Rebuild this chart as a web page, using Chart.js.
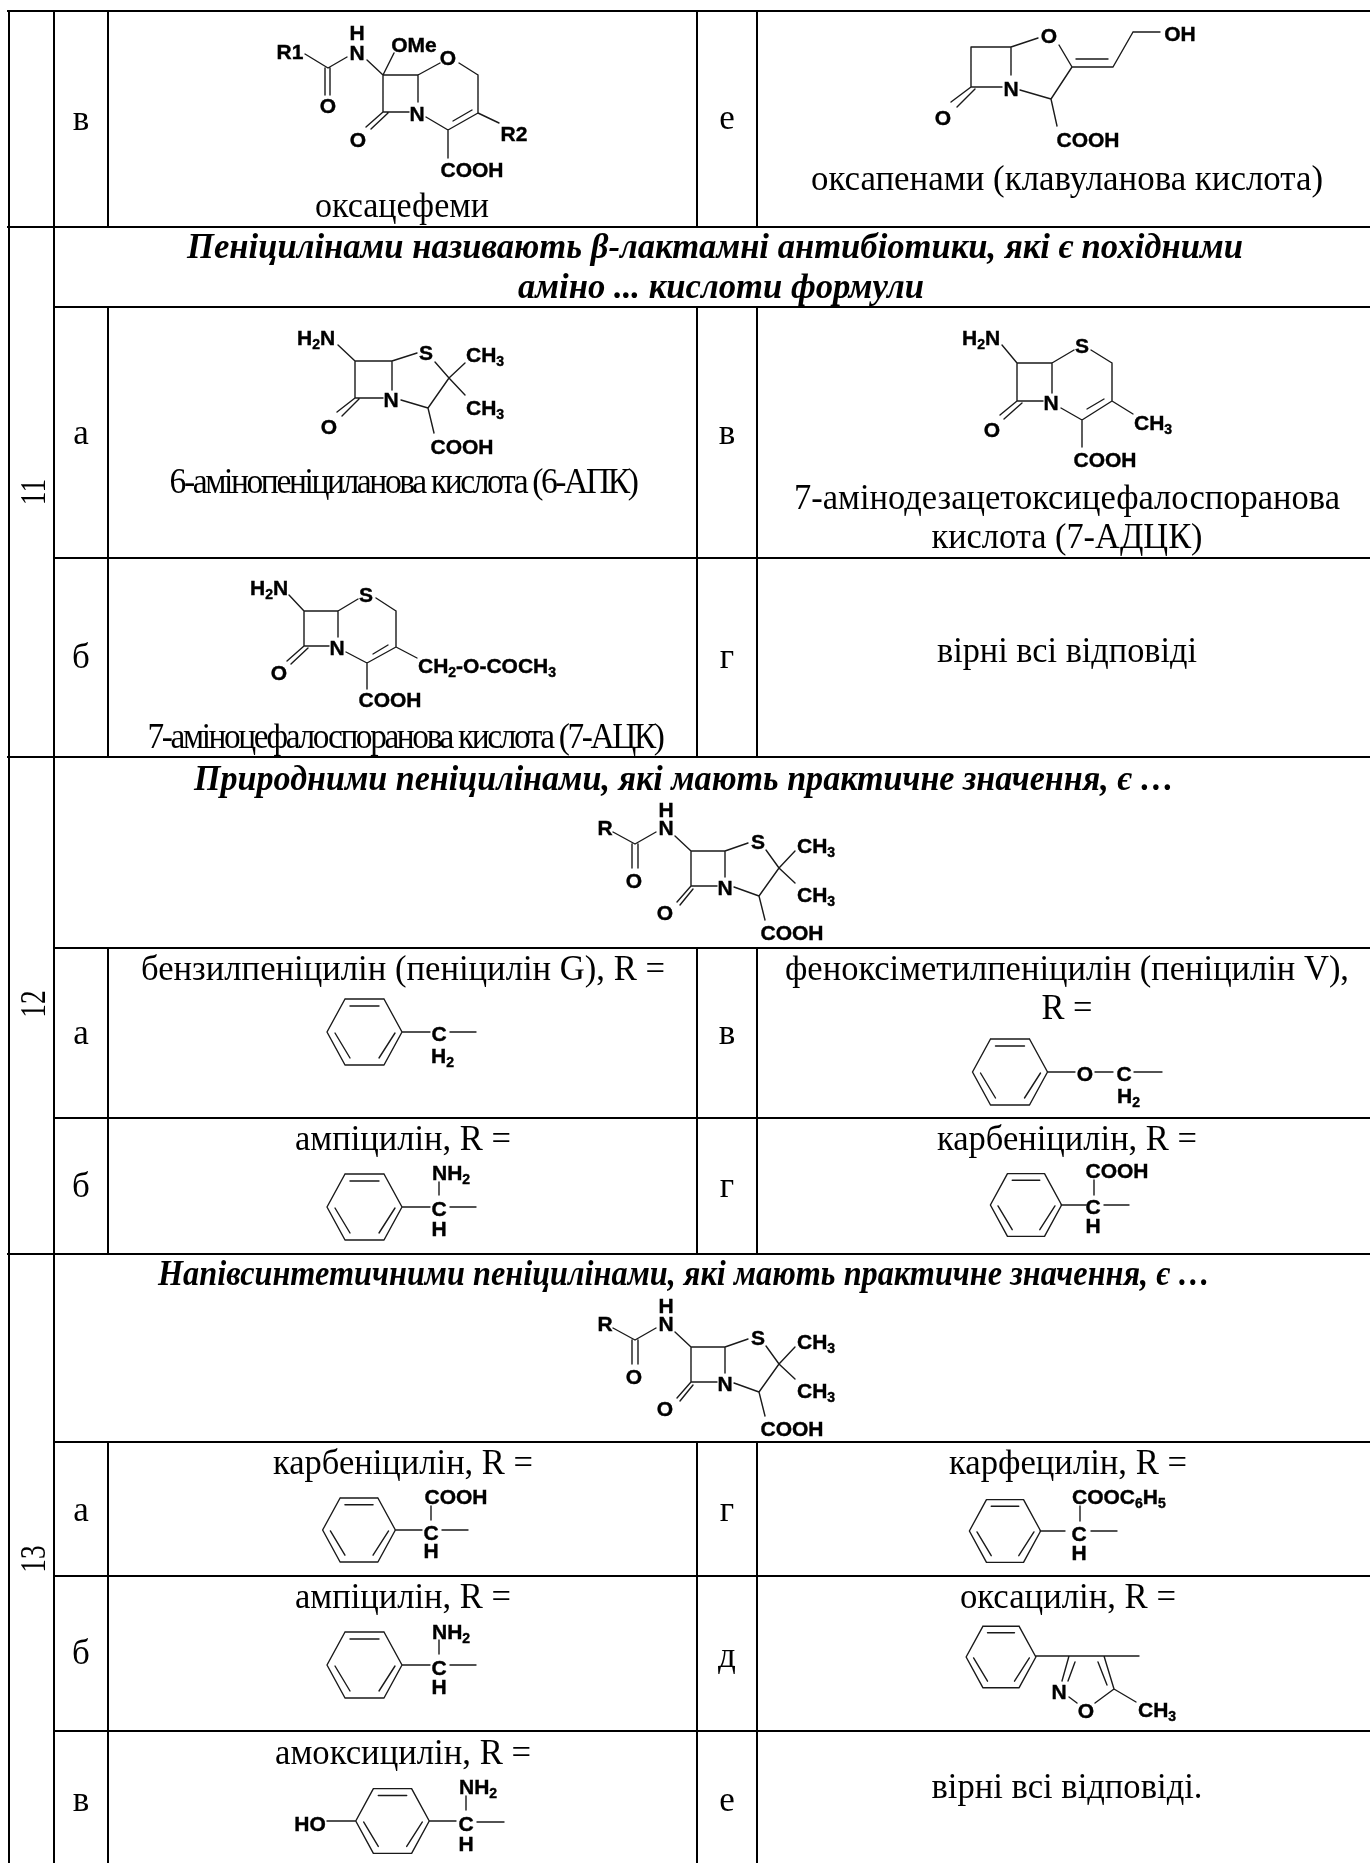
<!DOCTYPE html>
<html>
<head>
<meta charset="utf-8">
<style>
    html, body { margin: 0; padding: 0; background: #fff; }
    canvas { display: block; }
</style>
<script src="https://cdn.jsdelivr.net/npm/chart.js@4"></script>
</head>
<body>
<canvas id="chartTable" width="1370" height="1863"></canvas>
<script>
// table rules, each one x1, y1, x2, y2
var tableRules = [
    [9, 11, 9, 1863], [54, 11, 54, 1863],
    [108, 11, 108, 227], [108, 307, 108, 757], [108, 948, 108, 1254], [108, 1442, 108, 1863],
    [697, 11, 697, 227], [697, 307, 697, 757], [697, 948, 697, 1254], [697, 1442, 697, 1863],
    [757, 11, 757, 227], [757, 307, 757, 757], [757, 948, 757, 1254], [757, 1442, 757, 1863],
    [8, 11, 1370, 11], [8, 227, 1370, 227], [54, 307, 1370, 307], [54, 558, 1370, 558],
    [8, 757, 1370, 757], [54, 948, 1370, 948], [54, 1118, 1370, 1118], [8, 1254, 1370, 1254],
    [54, 1442, 1370, 1442], [54, 1576, 1370, 1576], [54, 1731, 1370, 1731]
];

var oxacephemBonds = [
    [305, 54, 328, 68], [328, 68, 347, 57], [325, 68, 325, 95], [330, 68, 330, 95],
    [367, 60, 383, 75], [383, 75, 394, 53], [383, 75, 418, 75], [418, 75, 440, 63],
    [459, 63, 478, 75], [478, 75, 478, 113], [478, 113, 448, 130], [472, 110, 453, 121],
    [448, 130, 426, 117], [418, 75, 418, 102], [383, 75, 383, 112], [383, 112, 409, 112],
    [383, 112, 366, 127], [388, 113, 371, 129], [448, 130, 448, 158], [478, 113, 499, 123]
];
var clavulanicBonds = [
    [971, 47, 1011, 47], [971, 47, 971, 87], [1011, 47, 1038, 38], [1059, 45, 1072, 67],
    [1072, 67, 1113, 67], [1076, 59, 1108, 59], [1113, 67, 1133, 32], [1133, 32, 1160, 32],
    [1072, 67, 1051, 99], [1020, 90, 1051, 99], [1051, 99, 1057, 126], [1011, 47, 1011, 75],
    [971, 87, 1002, 87], [971, 87, 951, 102], [975, 89, 957, 107]
];
var apaBonds = [
    [338, 345, 355, 361], [355, 361, 392, 361], [355, 361, 355, 398], [392, 361, 417, 353],
    [435, 362, 449, 378], [449, 378, 465, 363], [449, 378, 465, 395], [449, 378, 428, 408],
    [428, 408, 401, 400], [428, 408, 434, 433], [392, 361, 392, 390], [355, 398, 383, 398],
    [355, 398, 337, 412], [359, 399, 342, 416]
];
var acaBonds = [
    [289, 595, 304, 611], [304, 611, 338, 611], [304, 611, 304, 646], [338, 611, 358, 599],
    [376, 598, 396, 611], [396, 611, 396, 647], [396, 647, 367, 663], [388, 645, 373, 654],
    [367, 663, 346, 652], [338, 611, 338, 637], [304, 646, 329, 646], [304, 646, 287, 661],
    [308, 648, 291, 664], [367, 663, 367, 689], [396, 647, 417, 658]
];
var adcaBonds = [
    [1002, 345, 1017, 363], [1017, 363, 1052, 363], [1017, 363, 1017, 401], [1052, 363, 1074, 350],
    [1091, 350, 1112, 363], [1112, 363, 1112, 401], [1112, 401, 1082, 420], [1104, 399, 1087, 409],
    [1082, 420, 1061, 408], [1052, 363, 1052, 393], [1017, 401, 1043, 401], [1017, 401, 1000, 415],
    [1022, 403, 1004, 419], [1082, 420, 1082, 447], [1112, 401, 1133, 414]
];
// penam with R side chain, as in row 12; row 13 repeats it lower down
var penamBonds = [
    [613, 832, 635, 844], [635, 844, 656, 832], [632, 844, 632, 868], [638, 844, 638, 868],
    [675, 836, 691, 851], [691, 851, 725, 851], [691, 851, 691, 886], [725, 851, 748, 843],
    [766, 850, 779, 868], [779, 868, 795, 851], [779, 868, 795, 883], [779, 868, 759, 896],
    [759, 896, 734, 887], [759, 896, 765, 920], [725, 851, 725, 877], [691, 886, 717, 886],
    [691, 886, 677, 902], [693, 889, 680, 905]
];
var penamRowOffsets = [0, 496];

// benzene ring around its centre, then ring centres and sizes
var ringBonds = [
    [-19.5, -33, 19.5, -33], [19.5, -33, 37.5, 0], [37.5, 0, 19.5, 33], [19.5, 33, -19.5, 33],
    [-19.5, 33, -37.5, 0], [-37.5, 0, -19.5, -33],
    [-14.5, -26, 14.5, -26], [-29.5, 1, -14.5, 26], [30.5, 1, 14.5, 26]
];
var ringCentres = [
    [364.5, 1032, 1], [1010, 1072, 1], [364.5, 1207, 1], [1026, 1205, 0.95],
    [359, 1530, 0.97], [364.5, 1665, 1], [392.5, 1821, 0.98], [1005, 1531, 0.95], [1001, 1657, 0.93]
];
var sideChainBonds = [
    [402, 1032, 430, 1032], [450, 1032, 476, 1032],
    [1048, 1072, 1075, 1072], [1095, 1072, 1113, 1072], [1134, 1072, 1162, 1072],
    [402, 1207, 430, 1207], [450, 1207, 476, 1207], [439, 1182, 439, 1195],
    [1061, 1205, 1086, 1205], [1104, 1205, 1129, 1205], [1094, 1180, 1094, 1195],
    [395, 1530, 422, 1530], [442, 1530, 468, 1530], [431, 1506, 431, 1520],
    [402, 1665, 430, 1665], [450, 1665, 476, 1665], [439, 1640, 439, 1654],
    [327, 1821, 356, 1821], [429, 1821, 456, 1821], [477, 1822, 504, 1822], [466, 1796, 466, 1810],
    [1040, 1531, 1065, 1531], [1091, 1531, 1117, 1531], [1080, 1506, 1080, 1521]
];
var oxacillinBonds = [
    [1036, 1656, 1139, 1656], [1069, 1656, 1062, 1681], [1075, 1662, 1068, 1681],
    [1069, 1697, 1077, 1703], [1095, 1703, 1114, 1689], [1104, 1656, 1114, 1689],
    [1098, 1662, 1107, 1685], [1114, 1689, 1136, 1702]
];

// atom labels: text (_2 is a subscript), x, middle y, true when x is the left edge
var atomLabels = [
    ['R1', 290, 51], ['H', 357, 32], ['N', 357, 52], ['O', 328, 105], ['OMe', 414, 44], ['O', 448, 57],
    ['N', 417, 113], ['O', 358, 139], ['COOH', 472, 169], ['R2', 514, 133],
    ['O', 1049, 35], ['N', 1011, 88], ['OH', 1180, 33], ['COOH', 1088, 139], ['O', 943, 117],
    ['H_2N', 297, 337, true], ['S', 426, 352], ['CH_3', 466, 354, true], ['CH_3', 466, 407, true],
    ['N', 391, 399], ['O', 329, 426], ['COOH', 462, 446],
    ['H_2N', 250, 587, true], ['S', 366, 594], ['N', 337, 647], ['O', 279, 672], ['COOH', 390, 699],
    ['CH_2-O-COCH_3', 418, 665, true],
    ['H_2N', 962, 337, true], ['S', 1082, 345], ['N', 1051, 402], ['O', 992, 429], ['COOH', 1105, 459],
    ['CH_3', 1134, 422, true],
    ['C', 439, 1033], ['H_2', 431, 1055, true],
    ['O', 1085, 1073], ['C', 1124, 1073], ['H_2', 1117, 1095, true],
    ['NH_2', 432, 1172, true], ['C', 439, 1208], ['H', 439, 1228],
    ['COOH', 1117, 1170], ['C', 1093, 1206], ['H', 1093, 1225],
    ['COOH', 456, 1496], ['C', 431, 1532], ['H', 431, 1550],
    ['NH_2', 432, 1631, true], ['C', 439, 1667], ['H', 439, 1686],
    ['HO', 310, 1823], ['NH_2', 459, 1786, true], ['C', 466, 1823], ['H', 466, 1843],
    ['COOC_6H_5', 1072, 1496, true], ['C', 1079, 1533], ['H', 1079, 1552],
    ['N', 1059, 1691], ['O', 1086, 1710], ['CH_3', 1138, 1709, true]
];
var penamLabels = [
    ['R', 605, 827], ['H', 666, 809], ['N', 666, 827], ['O', 634, 880], ['S', 758, 841],
    ['CH_3', 797, 845, true], ['CH_3', 797, 894, true], ['N', 725, 887], ['O', 665, 912], ['COOH', 792, 932]
];

// question headings: text, centre x, baseline, width
var headings = [
    ['Пеніцилінами називають β-лактамні антибіотики, які є похідними', 715, 258, 1056],
    ['аміно ... кислоти формули', 721, 298, 406],
    ['Природними пеніцилінами, які мають практичне значення, є …', 684, 790, 980],
    ['Напівсинтетичними пеніцилінами, які мають практичне значення, є …', 684, 1285, 1052]
];
// answers and compound names: text, centre x, baseline, width
var captions = [
    ['оксацефеми', 402, 217, 174],
    ['оксапенами (клавуланова кислота)', 1067, 190, 512],
    ['7-амінодезацетоксицефалоспоранова', 1067, 509, 546],
    ['кислота (7-АДЦК)', 1067, 548, 271],
    ['вірні всі відповіді', 1067, 662, 260],
    ['бензилпеніцилін (пеніцилін G), R =', 403, 980, 524],
    ['феноксіметилпеніцилін (пеніцилін V),', 1067, 980, 564],
    ['R =', 1067, 1019, 51],
    ['ампіцилін, R =', 403, 1150, 216],
    ['карбеніцилін, R =', 1067, 1150, 260],
    ['карбеніцилін, R =', 403, 1474, 260],
    ['карфецилін, R =', 1068, 1474, 238],
    ['ампіцилін, R =', 403, 1608, 216],
    ['оксацилін, R =', 1068, 1608, 216],
    ['амоксицилін, R =', 403, 1764, 256],
    ['вірні всі відповіді.', 1067, 1798, 271]
];
// these two are set much tighter in the reference
var tightCaptions = [
    ['6-амінопеніциланова кислота (6-АПК)', 403, 493, 467],
    ['7-аміноцефалоспоранова кислота (7-АЦК)', 405, 748, 515]
];
// answer letters: letter, centre x, baseline
var answerLetters = [
    ['в', 81, 130], ['е', 727, 129],
    ['а', 81, 444], ['в', 727, 444], ['б', 81, 668], ['г', 727, 668],
    ['а', 81, 1044], ['в', 727, 1044], ['б', 81, 1197], ['г', 727, 1197],
    ['а', 81, 1521], ['г', 727, 1521], ['б', 81, 1664], ['д', 727, 1667], ['в', 81, 1811], ['е', 727, 1811]
];
// question numbers, rotated: number, centre x, centre y
var questionNumbers = [['11', 33, 492], ['12', 33, 1004], ['13', 33, 1559]];

function linePoints(segments) {
    var points = [];
    segments.forEach(function(s) {
        points.push({x: s[0], y: s[1]}, {x: s[2], y: s[3]}, {x: NaN, y: NaN});
    });
    return points;
}

function moved(segments, dx, dy, size) {
    return segments.map(function(s) {
        return [dx + s[0] * size, dy + s[1] * size, dx + s[2] * size, dy + s[3] * size];
    });
}

var allBonds = [].concat(oxacephemBonds, clavulanicBonds, apaBonds, acaBonds, adcaBonds, sideChainBonds, oxacillinBonds);
ringCentres.forEach(function(r) {
    allBonds = allBonds.concat(moved(ringBonds, r[0], r[1], r[2]));
});
var allLabels = atomLabels.slice();
penamRowOffsets.forEach(function(dy) {
    allBonds = allBonds.concat(moved(penamBonds, 0, dy, 1));
    penamLabels.forEach(function(l) {
        allLabels.push([l[0], l[1], l[2] + dy, l[3]]);
    });
});

function drawAtomLabel(ctx, label, x, y, fromLeft) {
    // split H_2N into normal and subscript runs
    var runs = label.split(/_(\d)/);
    var total = 0;
    runs.forEach(function(run, i) {
        ctx.font = (i % 2 ? 'bold 14px' : 'bold 21px') + ' "Liberation Sans"';
        total += ctx.measureText(run).width;
    });
    var pos = fromLeft ? x : x - total / 2;
    runs.forEach(function(run, i) {
        ctx.font = (i % 2 ? 'bold 14px' : 'bold 21px') + ' "Liberation Sans"';
        ctx.fillText(run, pos, y + 7.5 + (i % 2 ? 4 : 0));
        // the reference labels are a little heavier than the plain bold
        ctx.strokeText(run, pos, y + 7.5 + (i % 2 ? 4 : 0));
        pos += ctx.measureText(run).width;
    });
}

// centred text pulled to the width it has in the reference
function drawFitted(ctx, text, x, y, width) {
    ctx.save();
    ctx.translate(x, y);
    ctx.scale(width / ctx.measureText(text).width, 1);
    ctx.fillText(text, 0, 0);
    ctx.restore();
}

var tableTexts = {
    id: 'tableTexts',
    afterDatasetsDraw: function(chart) {
        var ctx = chart.ctx;
        var sx = chart.scales.x;
        var sy = chart.scales.y;
        ctx.save();
        ctx.fillStyle = '#000';
        ctx.strokeStyle = '#000';
        ctx.lineWidth = 0.4;
        ctx.textBaseline = 'alphabetic';
        ctx.textAlign = 'left';
        allLabels.forEach(function(l) {
            drawAtomLabel(ctx, l[0], sx.getPixelForValue(l[1]), sy.getPixelForValue(l[2]), l[3]);
        });
        ctx.textAlign = 'center';
        ctx.font = 'italic bold 35px "Liberation Serif"';
        headings.forEach(function(t) {
            drawFitted(ctx, t[0], sx.getPixelForValue(t[1]), sy.getPixelForValue(t[2]), t[3]);
        });
        ctx.font = '35px "Liberation Serif"';
        captions.forEach(function(t) {
            drawFitted(ctx, t[0], sx.getPixelForValue(t[1]), sy.getPixelForValue(t[2]), t[3]);
        });
        answerLetters.forEach(function(t) {
            drawFitted(ctx, t[0], sx.getPixelForValue(t[1]), sy.getPixelForValue(t[2]), ctx.measureText(t[0]).width);
        });
        ctx.letterSpacing = '-2.5px';
        tightCaptions.forEach(function(t) {
            drawFitted(ctx, t[0], sx.getPixelForValue(t[1]), sy.getPixelForValue(t[2]), t[3]);
        });
        ctx.letterSpacing = '0px';
        ctx.font = '36px "Liberation Serif"';
        questionNumbers.forEach(function(t) {
            ctx.save();
            ctx.translate(sx.getPixelForValue(t[1]), sy.getPixelForValue(t[2]));
            ctx.rotate(-Math.PI / 2);
            ctx.scale(0.76, 1);
            ctx.fillText(t[0], 0, 12);
            ctx.restore();
        });
        ctx.restore();
    }
};

var chart = new Chart(document.querySelector('#chartTable').getContext('2d'), {
    type: 'scatter',
    data: {
        datasets: [{
            label: 'Таблиця',
            data: linePoints(tableRules),
            showLine: true,
            spanGaps: false,
            pointRadius: 0,
            borderColor: '#000',
            borderWidth: 2,
            borderCapStyle: 'square'
        }, {
            label: 'Зв\'язки',
            data: linePoints(allBonds),
            showLine: true,
            spanGaps: false,
            pointRadius: 0,
            borderColor: '#1a1a1a',
            borderWidth: 1.4,
            borderCapStyle: 'round'
        }]
    },
    plugins: [tableTexts],
    options: {
        responsive: false,
        animation: false,
        events: [],
        layout: { padding: 0 },
        plugins: { legend: { display: false }, tooltip: { enabled: false } },
        scales: {
            x: { type: 'linear', min: 0, max: 1370, display: false },
            y: { type: 'linear', min: 0, max: 1863, reverse: true, display: false }
        }
    }
});
</script>
</body>
</html>
